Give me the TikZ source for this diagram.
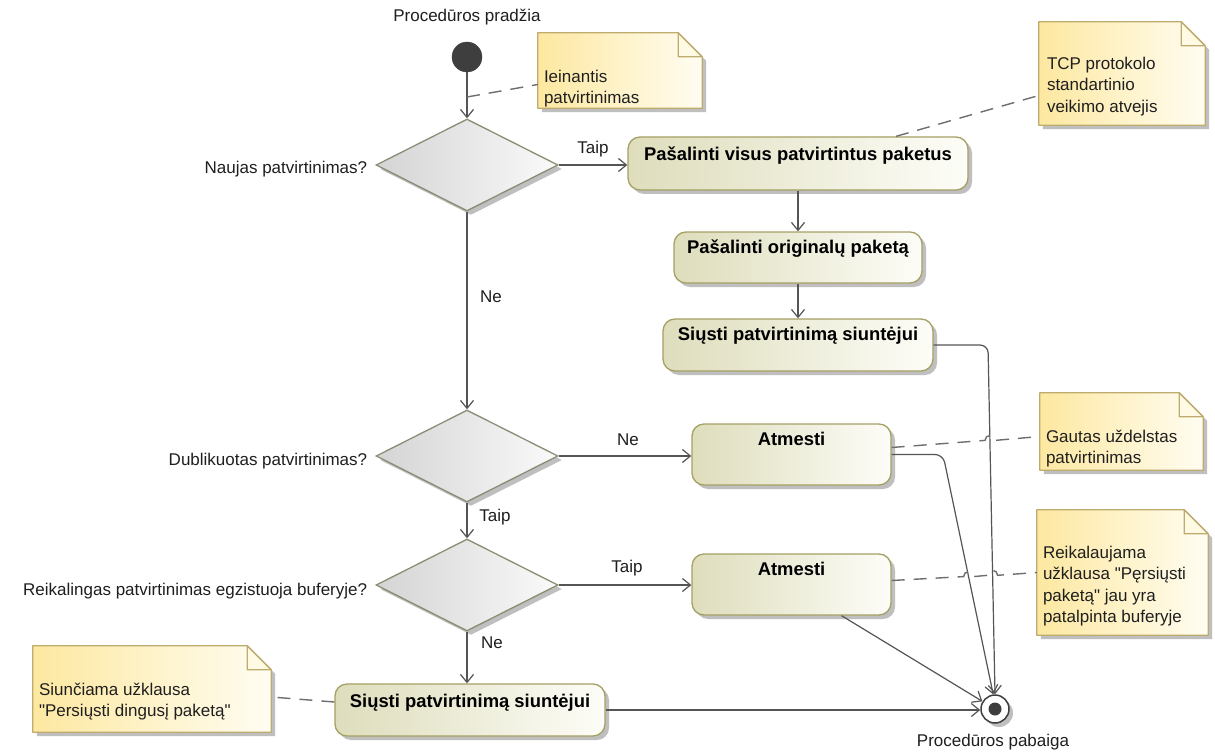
\documentclass[tikz,border=0pt]{standalone}
\usepackage{fontspec}
\setmainfont{Liberation Sans}[Ligatures=TeXOff]
\usetikzlibrary{shapes.geometric,arrows.meta,calc,shadows}

\definecolor{flow}{RGB}{85,85,85}
\definecolor{actborder}{RGB}{165,160,100}
\definecolor{actleft}{RGB}{222,221,188}
\definecolor{actright}{RGB}{253,253,248}
\definecolor{decborder}{RGB}{140,140,115}
\definecolor{decleft}{RGB}{212,212,212}
\definecolor{decright}{RGB}{250,250,250}
\definecolor{noteborder}{RGB}{190,172,110}
\definecolor{noteleft}{RGB}{253,232,160}
\definecolor{noteright}{RGB}{255,253,242}
\definecolor{notefold}{RGB}{255,250,228}
\definecolor{shadowgray}{RGB}{175,175,175}
\definecolor{nodedark}{RGB}{62,62,62}
\definecolor{anchorgray}{RGB}{110,110,110}

\tikzset{
  txt/.style={font=\fontsize{17}{21.5}\selectfont, text=black!88, inner sep=0pt},
  acttxt/.style={font=\fontsize{18.4}{22}\selectfont\bfseries, text=black, inner sep=0pt, anchor=base},
  softshadow/.style={drop shadow={shadow xshift=4pt, shadow yshift=-4pt, fill=shadowgray, opacity=0.8}},
  action/.style={rectangle, rounded corners=12pt, draw=actborder, line width=1.3pt,
    left color=actleft, right color=actright, inner sep=0pt, softshadow},
  decision/.style={diamond, draw=decborder, line width=1.3pt, left color=decleft,
    right color=decright, inner sep=0pt, minimum width=182pt, minimum height=92pt, softshadow},
  flowline/.style={draw=flow, line width=1.2pt, -{Straight Barb[length=8pt,width=13pt]}},
  anchorline/.style={draw=anchorgray, line width=1.4pt, dash pattern=on 13pt off 9pt},
  notebox/.style={rectangle, inner sep=0pt},
  notetxt/.style={txt, anchor=north west, align=left},
}

% UML note with a folded corner, drawn over an invisible rectangle node
\newcommand{\dognote}[1]{%
  \fill[shadowgray, opacity=0.8] ($(#1.north west)+(4,4)$) -- ($(#1.north east)+(-20,4)$)
    -- ($(#1.north east)+(4,28)$) -- ($(#1.south east)+(4,4)$) -- ($(#1.south west)+(4,4)$) -- cycle;
  \shade[left color=noteleft, right color=noteright] (#1.north west) -- ($(#1.north east)+(-24,0)$)
    -- ($(#1.north east)+(0,24)$) -- (#1.south east) -- (#1.south west) -- cycle;
  \draw[noteborder, line width=1.3pt, line join=round] (#1.north west) -- ($(#1.north east)+(-24,0)$)
    -- ($(#1.north east)+(0,24)$) -- (#1.south east) -- (#1.south west) -- cycle;
  \draw[noteborder, line width=1.3pt, fill=notefold, line join=round] ($(#1.north east)+(-24,0)$)
    -- ($(#1.north east)+(-24,24)$) -- ($(#1.north east)+(0,24)$) -- cycle;
}

\begin{document}
\begin{tikzpicture}[x=1pt,y=-1pt]
\useasboundingbox (0,0) rectangle (1215,754);
\fill[white] (0,0) rectangle (1215,754);

% initial and final nodes
\node[circle, fill=nodedark, draw=nodedark, minimum size=30pt, inner sep=0pt] (start) at (467,57) {};
\node[txt] (startlbl) at (467,17) {Procedūros pradžia};
\node[circle, draw=nodedark, line width=1.5pt, fill=white, minimum size=28pt, inner sep=0pt, softshadow] (end) at (995,709) {};
\node[circle, fill=nodedark, minimum size=13pt, inner sep=0pt] (endin) at (end) {};
\node[txt] (endlbl) at (993,742) {Procedūros pabaiga};

% decisions
\node[decision] (d1) at (467,165) {};
\node[decision] (d2) at (467,456) {};
\node[decision] (d3) at (467,585) {};
\node[txt, anchor=east] (d1l) at ($(d1.west)+(-8,4)$) {Naujas patvirtinimas?};
\node[txt, anchor=east] (d2l) at ($(d2.west)+(-8,5)$) {Dublikuotas patvirtinimas?};
\node[txt, anchor=east] (d3l) at ($(d3.west)+(-8,6)$) {Reikalingas patvirtinimas egzistuoja buferyje?};

% actions
\node[action, minimum width=340pt, minimum height=53pt] (b1) at (798,163.5) {};
\node[acttxt] (b1t) at ($(b1.north)+(0,24)$) {Pašalinti visus patvirtintus paketus};
\node[action, minimum width=248pt, minimum height=51pt] (b2) at (798,257.5) {};
\node[acttxt] (b2t) at ($(b2.north)+(0,22)$) {Pašalinti originalų paketą};
\node[action, minimum width=270pt, minimum height=52pt] (b3) at (798,345) {};
\node[acttxt] (b3t) at ($(b3.north)+(0,22)$) {Siųsti patvirtinimą siuntėjui};
\node[action, minimum width=199pt, minimum height=61pt] (a1) at (791.5,454.5) {};
\node[acttxt] (a1t) at ($(a1.north)+(0,22)$) {Atmesti};
\node[action, minimum width=199pt, minimum height=61pt] (a2) at (791.5,584.5) {};
\node[acttxt] (a2t) at ($(a2.north)+(0,22)$) {Atmesti};
\node[action, minimum width=270pt, minimum height=52pt] (b4) at (470,710) {};
\node[acttxt] (b4t) at ($(b4.north)+(0,24)$) {Siųsti patvirtinimą siuntėjui};

% bend points
\coordinate (k3) at (988,345);
\coordinate (k1) at (943,454.5);
\coordinate (c1) at (467,97);

% control flow
\draw[flowline] (start) -- (d1.north);
\draw[flowline] (d1.east) -- (d1.east -| b1.west);
\node[txt] (l1) at (593,149) {Taip};
\draw[flowline] (d1.south) -- (d2.north);
\node[txt] (l2) at (491,297) {Ne};
\draw[flowline] (b1.south) -- (b2.north);
\draw[flowline] (b2.south) -- (b3.north);
\draw[flowline, rounded corners=8pt] (b3.east) -- (k3) -- (end.north);
\draw[flowline] (d2.east) -- (d2.east -| a1.west);
\node[txt] (l3) at (628,440) {Ne};
\draw[flowline] (d2.south) -- (d3.north);
\node[txt] (l4) at (495,517) {Taip};
\draw[flowline, rounded corners=8pt] (a1.east) -- (k1) -- (end.97);
\draw[flowline] (d3.east) -- (d3.east -| a2.west);
\node[txt] (l5) at (627,568) {Taip};
\draw[flowline] (d3.south) -- (d3.south |- b4.north);
\node[txt] (l6) at (492,643) {Ne};
\draw[flowline] ($(a2.south)+(50,0)$) -- (end);
\draw[flowline] (b4.east) -- (b4.east -| end.west);

% notes
\node[notebox, minimum width=164pt, minimum height=75pt] (n1) at (620,70.5) {};
\node[notebox, minimum width=166pt, minimum height=103pt] (n2) at (1122,73.5) {};
\node[notebox, minimum width=163pt, minimum height=77pt] (n3) at (1121.5,431.5) {};
\node[notebox, minimum width=171pt, minimum height=125pt] (n4) at (1122.5,572.5) {};
\node[notebox, minimum width=238pt, minimum height=86pt] (n5) at (152,689) {};
\dognote{n1}
\dognote{n2}
\dognote{n3}
\dognote{n4}
\dognote{n5}
\node[notetxt] (n1t) at ($(n1.north west)+(6,37)$) {Ieinantis\\patvirtinimas};
\node[notetxt] (n2t) at ($(n2.north west)+(8,35)$) {TCP protokolo\\standartinio\\veikimo atvejis};
\node[notetxt] (n3t) at ($(n3.north west)+(6,37)$) {Gautas uždelstas\\patvirtinimas};
\node[notetxt] (n4t) at ($(n4.north west)+(6,36)$) {Reikalaujama\\užklausa "Pęrsiųsti\\paketą" jau yra\\patalpinta buferyje};
\node[notetxt] (n5t) at ($(n5.north west)+(6,37)$) {Siunčiama užklausa\\"Persiųsti dingusį paketą"};

% note anchors (with small hops over crossed flows)
\draw[anchorline] (c1) -- ($(n1.west)+(0,14)$);
\draw[anchorline] ($(b1.north)+(98,0)$) -- ($(n2.west)+(0,22)$);
\draw[anchorline] ($(a1.east)+(0,-7)$) -- (985,440.4) arc[start angle=180, end angle=0, radius=5pt]
  -- ($(n3.west)+(0,5)$);
\draw[anchorline] ($(a2.east)+(0,-4)$) -- (963.6,576.6) arc[start angle=180, end angle=0, radius=5pt]
  -- (987.6,575.3) arc[start angle=180, end angle=0, radius=5pt] -- (n4.west);
\draw[anchorline] ($(b4.west)+(0,-8)$) -- ($(n5.east)+(0,8)$);
\end{tikzpicture}
\end{document}
